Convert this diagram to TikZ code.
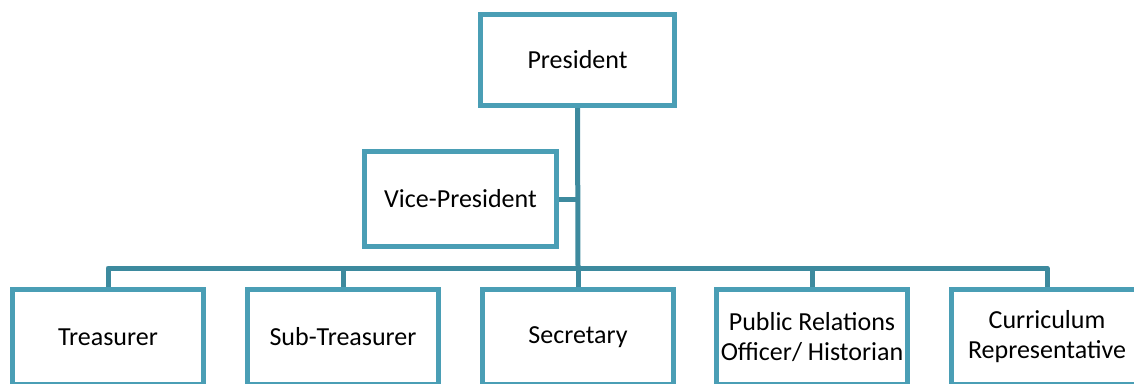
\documentclass[tikz,border=0pt]{standalone}
\usepackage{fontspec}
\setmainfont{Carlito}
\usetikzlibrary{backgrounds}
\definecolor{boxc}{HTML}{4A9EB5}
\definecolor{linec}{HTML}{3D8A9E}
\begin{document}
\begin{tikzpicture}[x=1pt,y=-1pt,
  orgbox/.style={draw=boxc,line width=5pt,fill=white,rectangle,inner sep=0pt,
    align=center,font=\fontsize{26}{30}\selectfont,text=black},
  topbox/.style={orgbox,minimum width=194pt,minimum height=91pt},
  vpbox/.style={orgbox,minimum width=192pt,minimum height=95pt},
  lowbox/.style={orgbox,minimum width=191pt,minimum height=95pt},
  conn/.style={draw=linec,line width=5pt,line join=round}]
\useasboundingbox (0,0) rectangle (1134,383);
\clip (0,0) rectangle (1134,383);
\coordinate (bus) at (578,268);
\node[topbox] (pres) at (577.5,60) {President};
\node[vpbox] (vp) at (460.5,199) {Vice-President};
\node[lowbox] (t1) at (108,337) {Treasurer};
\node[lowbox] (t2) at (343,337) {Sub-Treasurer};
\node[lowbox] (t3) at (578,337) {Secretary};
\node[lowbox] (t4) at (812,337) {Public Relations\\Officer/ Historian};
\node[lowbox] (t5) at (1047,337) {Curriculum\\Representative};
\begin{pgfonlayer}{background}
\draw[conn] (pres.south) -- (bus);
\draw[conn] (vp.east) -- (vp.east -| bus);
\draw[conn] (t1.north) -- (bus -| t1.north) -- (bus -| t5.north) -- (t5.north);
\draw[conn] (bus -| t2.north) -- (t2.north);
\draw[conn] (bus -| t3.north) -- (t3.north);
\draw[conn] (bus -| t4.north) -- (t4.north);
\end{pgfonlayer}
\end{tikzpicture}
\end{document}
